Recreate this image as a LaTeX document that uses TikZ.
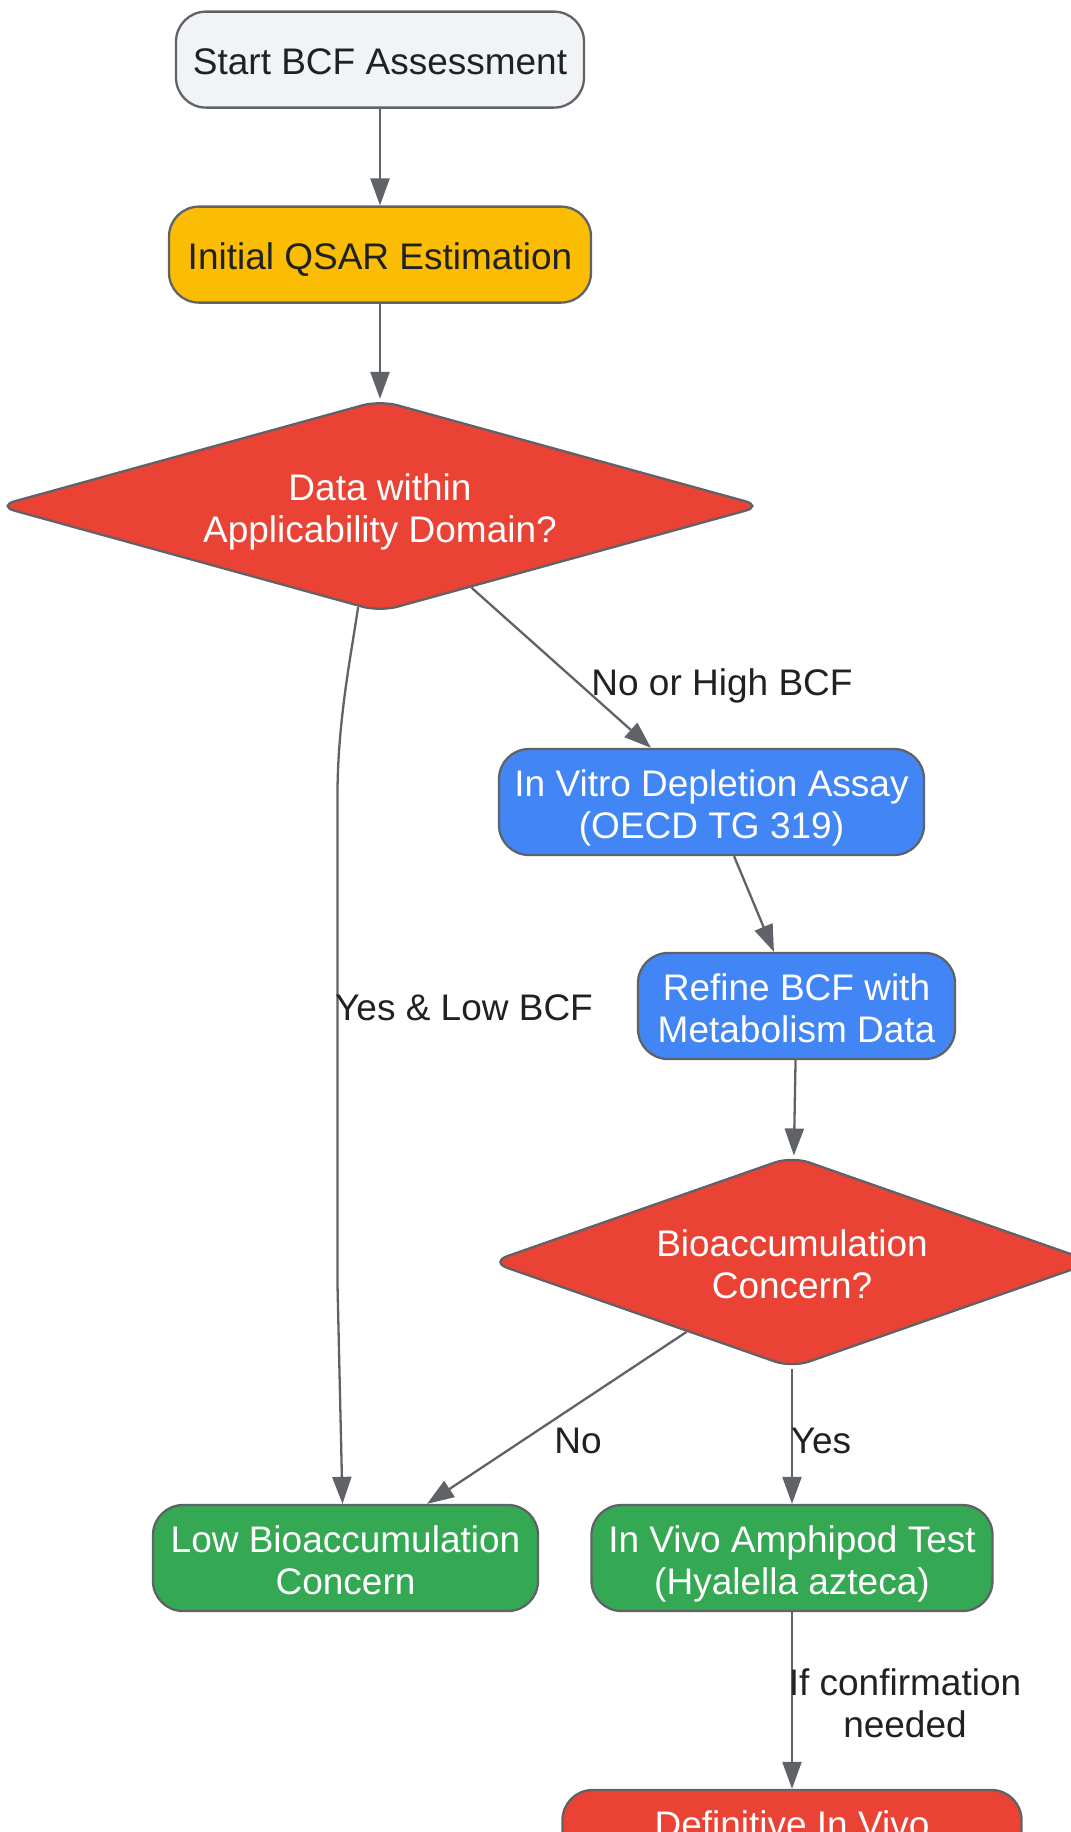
\documentclass[tikz,border=0pt]{standalone}
\usepackage{fontspec}
\setmainfont{Liberation Sans}
\usetikzlibrary{arrows.meta,shapes.geometric,calc}
\definecolor{edgegray}{HTML}{5F6368}
\definecolor{startfill}{HTML}{F1F3F4}
\definecolor{qsarfill}{HTML}{FBBC04}
\definecolor{redfill}{HTML}{EA4335}
\definecolor{bluefill}{HTML}{4285F4}
\definecolor{greenfill}{HTML}{34A853}
\definecolor{textdark}{HTML}{202124}
\newcommand\topst{\rule{0pt}{38.5pt}}
\newcommand\botst{\rule[-8pt]{0pt}{8pt}}
\begin{document}
\begin{tikzpicture}[x=1pt,y=-1pt,
  txt/.style={font=\fontsize{37}{42}\selectfont},
  box/.style={txt, draw=edgegray, line width=2.3pt, rounded corners=30pt, inner sep=0pt,
    align=center, minimum height=106pt, text=white},
  dec/.style={txt, draw=edgegray, line width=2.3pt, shape=diamond, rounded corners=18pt,
    inner sep=0pt, align=center, text=white, fill=redfill, minimum height=212pt},
  conn/.style={draw=edgegray, line width=2.3pt, -{Triangle[length=27pt,width=19pt]}},
  lbl/.style={txt, text=textdark, align=center, inner sep=0pt}]
\useasboundingbox (0,0) rectangle (1071,1832);
\clip (0,0) rectangle (1071,1832);

\node[box, fill=startfill, text=textdark, minimum width=408pt, minimum height=96pt] (start) at (380,59.6) {\topst\botst Start BCF Assessment};
\node[box, fill=qsarfill, text=textdark, minimum width=422pt, minimum height=96pt] (qsar) at (380,254.6) {\topst\botst Initial QSAR Estimation};
\node[dec, shape aspect=3.6, minimum width=766pt] (d1) at (380,506) {\topst Data within\\\botst Applicability Domain?};
\node[box, fill=bluefill, minimum width=425pt] (invitro) at (711.5,802) {\topst In Vitro Depletion Assay\\\botst (OECD TG 319)};
\node[box, fill=bluefill, minimum width=317pt] (refine) at (796.5,1006) {\topst Refine BCF with\\\botst Metabolism Data};
\node[dec, shape aspect=2.85, minimum width=604pt] (d2) at (792,1262) {\topst Bioaccumulation\\\botst Concern?};
\node[box, fill=greenfill, minimum width=385pt] (low) at (345.5,1558) {\topst Low Bioaccumulation\\\botst Concern};
\node[box, fill=greenfill, minimum width=401pt] (invivo) at (792,1558) {\topst In Vivo Amphipod Test\\\botst (Hyalella azteca)};
\node[box, fill=redfill, minimum width=459pt] (defin) at (792,1843) {\topst Definitive In Vivo\\\botst};

\draw[conn] (start) -- (qsar);
\draw[conn] (qsar) -- (d1);
\draw[conn] (d1) -- (invitro);
\draw[conn] (invitro) -- (refine);
\draw[conn] (refine) -- (d2);
\draw[conn] (d2) -- (low);
\draw[conn] (d2) -- (invivo);
\draw[conn] (invivo) -- (defin);
\coordinate (c1) at (352,650);
\coordinate (c2) at (337.5,720);
\coordinate (v1) at (337.5,795);
\coordinate (v2) at (337.5,1285);
\draw[conn] ($(d1.south)!0.057!(d1.west)$) .. controls (c1) and (c2) .. (v1) -- (v2) -- ($(low.north)+(-3,0)$);

\node[lbl] (l1) at (722,686) {No or High BCF};
\node[lbl] (l2) at (464,1008) {Yes \& Low BCF};
\node[lbl] (l3) at (578,1441) {No};
\node[lbl] (l4) at (821,1441) {Yes};
\node[lbl] (l5) at (905,1703) {If confirmation\\needed};
\end{tikzpicture}
\end{document}
